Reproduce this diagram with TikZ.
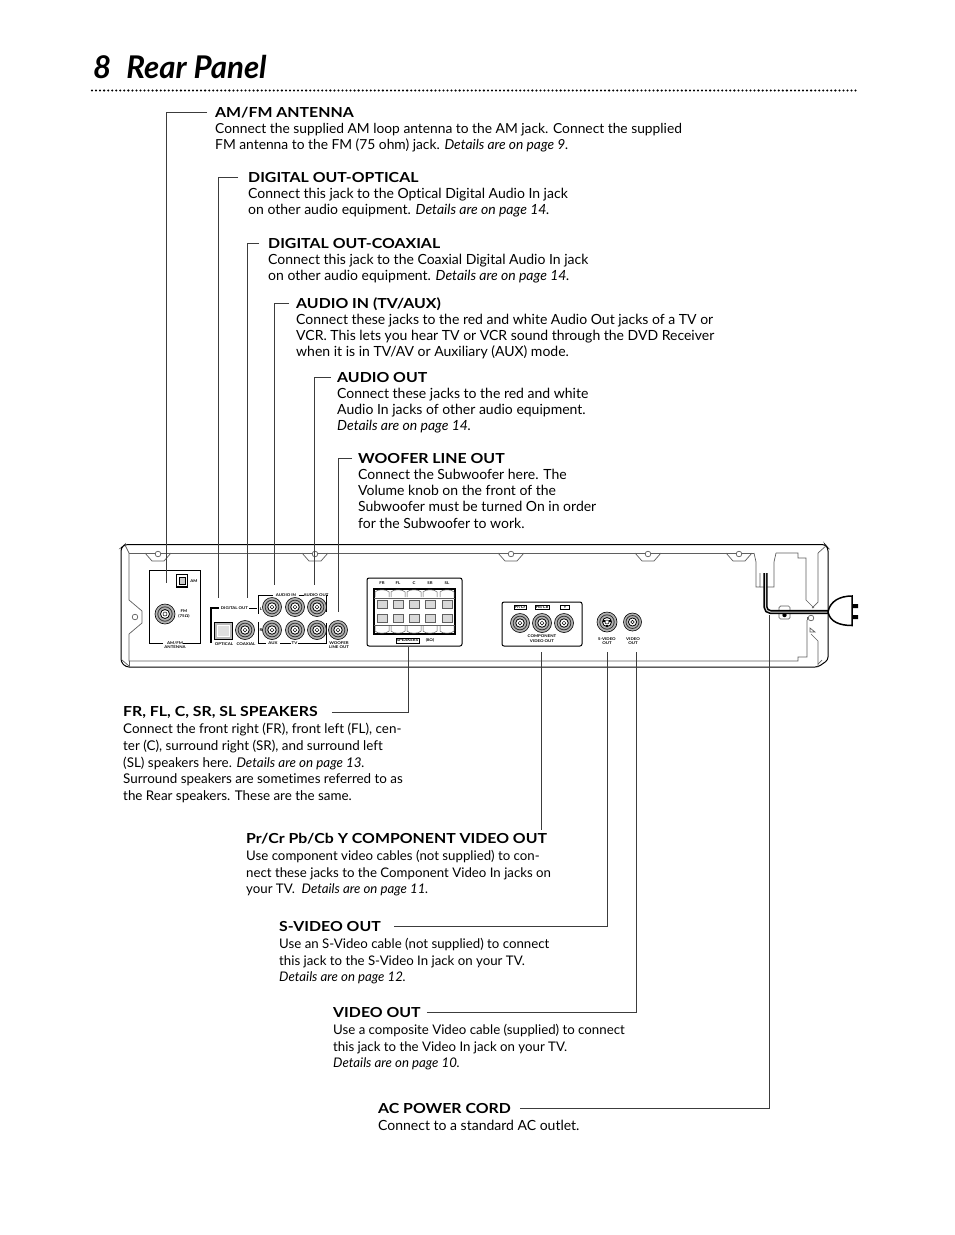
\documentclass[tikz,border=0pt]{standalone}
\usepackage{fontspec}
\setmainfont[Ligatures=NoCommon]{Lato}
\newfontfamily\headfont[FakeStretch=1.15, Ligatures=NoCommon]{Lato}
\usetikzlibrary{positioning, calc}
\definecolor{inkline}{RGB}{60,60,60}
\definecolor{panelgray}{RGB}{95,95,95}
\tikzset{
  head/.style={inner sep=0pt, anchor=base west, font=\fontsize{13.8}{16}\headfont\bfseries},
  body/.style={inner sep=0pt, align=left, font=\fontsize{14}{16.2}\selectfont, execute at begin node=\strut},
  bodylow/.style={inner sep=0pt, align=left, font=\fontsize{13.25}{16.7}\selectfont, execute at begin node=\strut},
  leader/.style={draw=inkline, line width=0.55pt},
  panel/.style={draw=panelgray, line width=0.7pt},
  frame/.style={draw=black, line width=1pt},
  tinytxt/.style={inner sep=0pt, align=center, font=\fontsize{3.8}{4.6}\headfont\bfseries},
  jack/.pic={
    \fill[gray!60, draw=black, line width=0.6pt] (0,0) circle (#1);
    \draw[black!80, line width=0.8pt] (0,0) circle (#1*0.72);
    \fill[white, draw=black, line width=0.8pt] (0,0) circle (#1*0.45);
    \draw[black, line width=0.5pt] (0,0) circle (#1*0.2);
  },
  tabhole/.pic={
    \draw[panel] (-13,0) -- (-6,8) -- (6,8) -- (13,0);
    \draw[panel, fill=white] (0,1) circle (2.8);
  }
}
\newcommand{\details}[1]{\textit{#1}}
\begin{document}
\begin{tikzpicture}[x=1pt, y=-1pt]
  \useasboundingbox[fill=white] (0,0) rectangle (954,1235);

  % title
  \node[inner sep=0pt, anchor=base west, font=\fontsize{31.3}{33}\selectfont\bfseries\itshape] (title) at (93,78) {8\hspace{15pt}Rear Panel};
  \draw[black, line width=2.3pt, line cap=round, dash pattern=on 0pt off 4.04pt] (92,90.5) -- (859,90.5);

  % texts above the panel
  \node[head] (amfmhead) at (215,117) {AM/FM ANTENNA};
  \node[body, font=\fontsize{13.8}{16.2}\selectfont, below=5.9pt of amfmhead.base west, anchor=north west] (amfmbody) {Connect the supplied AM loop antenna to the AM jack. Connect the supplied\\FM antenna to the FM (75 ohm) jack. \details{Details are on page 9.}};
  \node[head] (opticalhead) at (248,182) {DIGITAL OUT-OPTICAL};
  \node[body, below=5.9pt of opticalhead.base west, anchor=north west] (opticalbody) {Connect this jack to the Optical Digital Audio In jack\\on other audio equipment. \details{Details are on page 14.}};
  \node[head] (coaxhead) at (268,248) {DIGITAL OUT-COAXIAL};
  \node[body, below=5.9pt of coaxhead.base west, anchor=north west] (coaxbody) {Connect this jack to the Coaxial Digital Audio In jack\\on other audio equipment. \details{Details are on page 14.}};
  \node[head] (audioinhead) at (296,308) {AUDIO IN (TV/AUX)};
  \node[body, below=5.9pt of audioinhead.base west, anchor=north west] (audioinbody) {Connect these jacks to the red and white Audio Out jacks of a TV or\\VCR. This lets you hear TV or VCR sound through the DVD Receiver\\when it is in TV/AV or Auxiliary (AUX) mode.};
  \node[head] (audioouthead) at (337,382) {AUDIO OUT};
  \node[body, below=5.9pt of audioouthead.base west, anchor=north west] (audiooutbody) {Connect these jacks to the red and white\\Audio In jacks of other audio equipment.\\\details{Details are on page 14.}};
  \node[head] (wooferhead) at (358,463) {WOOFER LINE OUT};
  \node[body, below=5.9pt of wooferhead.base west, anchor=north west] (wooferbody) {Connect the Subwoofer here. The\\Volume knob on the front of the\\Subwoofer must be turned On in order\\for the Subwoofer to work.};

  % texts below the panel
  \node[head] (speakerhead) at (123,716) {FR, FL, C, SR, SL SPEAKERS};
  \node[bodylow, font=\fontsize{13.4}{16.7}\selectfont, below=7pt of speakerhead.base west, anchor=north west] (speakerbody) {Connect the front right (FR), front left (FL), cen-\\ter (C), surround right (SR), and surround left\\(SL) speakers here. \details{Details are on page 13.}\\Surround speakers are sometimes referred to as\\the Rear speakers. These are the same.};
  \node[head] (comphead) at (246,843) {Pr/Cr Pb/Cb Y COMPONENT VIDEO OUT};
  \node[bodylow, below=7pt of comphead.base west, anchor=north west] (compbody) {Use component video cables (not supplied) to con-\\nect these jacks to the Component Video In jacks on\\your TV.\ \ \details{Details are on page 11.}};
  \node[head] (svideohead) at (279,931) {S-VIDEO OUT};
  \node[bodylow, below=7pt of svideohead.base west, anchor=north west] (svideobody) {Use an S-Video cable (not supplied) to connect\\this jack to the S-Video In jack on your TV.\\\details{Details are on page 12.}};
  \node[head] (videohead) at (333,1017) {VIDEO OUT};
  \node[bodylow, below=7pt of videohead.base west, anchor=north west] (videobody) {Use a composite Video cable (supplied) to connect\\this jack to the Video In jack on your TV.\\\details{Details are on page 10.}};
  \node[head] (achead) at (378,1113) {AC POWER CORD};
  \node[body, below=6pt of achead.base west, anchor=north west] (acbody) {Connect to a standard AC outlet.};

  % panel outline
  \draw[black, line width=1pt, rounded corners=3pt] (125,544.5) -- (825,544.5) -- (828,548) -- (828,660) -- (818,667) -- (126,667) -- (121,662) -- (121,548) -- cycle;
  \draw[panel] (129,553) -- (754,553);
  \draw[panel] (129,553) -- (129,600) -- (142,611) -- (142,623) -- (129,634) -- (129,661) -- (798,661) -- (798,657) -- (807,657) -- (807,620);
  \draw[panel] (125,545) -- (129,553);
  \draw[panel] (122,660) -- (129,666);
  \draw[panel] (129,661) -- (129,667);
  \draw[panel, fill=white] (135,617) circle (2.8);
  \draw[panel] (776,553) -- (798,553) -- (798,558) -- (806,558) -- (806,600) -- (814,608);
  \draw[panel] (818,553) -- (827,545);
  \draw[panel] (818,553) -- (818,602) -- (812,608);
  \draw[panel] (807,620) -- (807,617);
  \draw[panel] (811,634) -- (818,641) -- (818,667);
  \draw[panel] (810,628) -- (815,632) -- (810,632) -- cycle;
  \draw[panel] (822,660) -- (818,664);
  \draw[panel] (754,553) -- (756,562) -- (756,587) -- (760,587) -- (760,573);
  \draw[panel] (776,553) -- (774,562) -- (774,587) -- (760,587);
  \draw[panel, fill=white] (811,618) circle (2.8);
  \foreach \tabx in {158,315,511,648,739}
    \pic at (\tabx,553) {tabhole};

  % antenna block
  \draw[frame] (163,643) -- (149,643) -- (149,570) -- (200,570) -- (200,643) -- (183,643);
  \node[tinytxt] (amfmcap) at (175,645) {AM/FM\\ANTENNA};
  \draw[black, line width=1.2pt, fill=white] (176.5,574.5) rectangle (187.5,587);
  \draw[black, line width=0.8pt, fill=gray!40] (179,577) rectangle (185,584.5);
  \node[tinytxt] (amcap) at (194,581) {AM};
  \pic at (165,614) {jack=10};
  \node[tinytxt] (fmcap) at (184,614) {FM\\(75Ω)};

  % digital and audio jacks
  \draw[frame, line width=1.3pt] (219,608) -- (211,608) -- (211,643);
  \draw[frame] (249,608) -- (257,608);
  \node[tinytxt] (digitalcap) at (234.5,608) {DIGITAL OUT};
  \draw[black, fill=gray!55, line width=0.5pt] (214,622) rectangle (232,639);
  \draw[white, fill=gray!25, line width=0.7pt] (217,625) rectangle (229,636);
  \pic at (245,630) {jack=9.5};
  \node[tinytxt] (opticalcap) at (224,644) {OPTICAL};
  \node[tinytxt] (coaxcap) at (246,644) {COAXIAL};
  \draw[frame] (273,595.5) -- (258,595.5) -- (258,614);
  \draw[frame] (258,622) -- (258,643) -- (266,643);
  \draw[frame] (280,643) -- (291,643);
  \draw[frame] (298,643) -- (326,643) -- (326,623);
  \draw[frame] (326,612) -- (326,595.5) -- (328,595.5);
  \draw[frame] (298.5,595.5) -- (303.5,595.5);
  \node[tinytxt] (audioincap) at (286,595.5) {AUDIO IN};
  \node[tinytxt] (audiooutcap) at (316,595.5) {AUDIO OUT};
  \node[tinytxt] (auxcap) at (273,643) {AUX};
  \node[tinytxt] (tvcap) at (294.5,643) {TV};
  \node[tinytxt] (leftcap) at (261,609) {L};
  \node[tinytxt] (rightcap) at (261,630) {R};
  \foreach \jackx in {272,295,317}
    \foreach \jacky in {607,630}
      \pic at (\jackx,\jacky) {jack=9.5};
  \pic at (338,630) {jack=9.5};
  \node[tinytxt] (woofercap) at (339,645) {WOOFER\\LINE OUT};

  % speaker block
  \draw[black, line width=1pt, rounded corners=2pt] (367,578) rectangle (462,646);
  \foreach \spkname/\spkx in {FR/382,FL/398,C/414,SR/430,SL/447}
    \node[tinytxt] (cap\spkname) at (\spkx,583) {\spkname};
  \draw[black, line width=1.3pt, fill=white] (374,589) rectangle (455,634);
  \foreach \spkx in {382,398,414,430,447} {
    \foreach \spky in {604,618}
      \draw[panel, fill=gray!30, line width=0.5pt] (\spkx-5,\spky-4) rectangle (\spkx+5,\spky+4);
    \draw[panel, line width=0.5pt] (\spkx-7,597) -- (\spkx-7,592) .. controls (\spkx-5,589) and (\spkx+5,589) .. (\spkx+7,592) -- (\spkx+7,597);
    \draw[panel, line width=0.5pt] (\spkx-7,626) -- (\spkx-7,631) .. controls (\spkx-5,634) and (\spkx+5,634) .. (\spkx+7,631) -- (\spkx+7,626);
  }
  \draw[panel, line width=0.5pt] (374,598) -- (455,598);
  \draw[panel, line width=0.5pt] (374,625) -- (455,625);
  \node[tinytxt, draw=black, line width=0.5pt, inner xsep=1pt, inner ysep=1pt] (spkcap) at (407.5,640.5) {SPEAKERS};
  \node[tinytxt] (ohmcap) at (430,640.5) {(8Ω)};

  % video block
  \draw[black, line width=1pt, rounded corners=2pt] (502,602) rectangle (582,646);
  \node[tinytxt, draw=black, line width=0.4pt, inner sep=0.8pt] (prcap) at (520,607) {Pr/Cr};
  \node[tinytxt, draw=black, line width=0.4pt, inner sep=0.8pt] (pbcap) at (542,607) {Pb/Cb};
  \node[tinytxt, draw=black, line width=0.4pt, inner xsep=3pt, inner ysep=0.8pt] (ycap) at (565,607) {Y};
  \foreach \jackx in {520,542,564}
    \pic at (\jackx,623) {jack=9.5};
  \node[tinytxt] (compcap) at (542,638.5) {COMPONENT\\VIDEO OUT};
  \pic at (607,622) {jack=10};
  \fill[black] (603,620) rectangle (605,622) (609,620) rectangle (611,622) (606,625) rectangle (608,627);
  \node[tinytxt] (svideocap) at (607,641) {S-VIDEO\\OUT};
  \pic at (632.5,622) {jack=9};
  \node[tinytxt] (videocap) at (633,641) {VIDEO\\OUT};

  % power cord and plug
  \draw[panel, fill=white, rounded corners=1.5pt] (779,606) rectangle (790,619);
  \fill[black] (784.5,615) circle (2.2);
  \draw[black, line width=4.2pt, rounded corners=5pt] (765.5,573) -- (765.5,612) -- (830,612);
  \draw[white!70!gray, line width=1pt, rounded corners=5pt] (765.5,573) -- (765.5,612) -- (830,612);
  \draw[black, line width=1.5pt, fill=white] (828,612) .. controls (830,601) and (840,596) .. (852,596) -- (852,625.5) .. controls (840,625.5) and (830,622) .. (828,612) -- cycle;
  \fill[black] (852,604) rectangle (858,608) (852,615) rectangle (858,619);

  % leader lines
  \coordinate (amfmend) at (166,583);
  \coordinate (opticalend) at (218,598);
  \coordinate (coaxend) at (247,598);
  \coordinate (audioinend) at (274,585);
  \coordinate (audiooutend) at (314,585);
  \coordinate (wooferend) at (338.5,612);
  \coordinate (speakerend) at (408,647);
  \coordinate (compend) at (541,652);
  \coordinate (svideoend) at (607,652);
  \coordinate (videoend) at (636,652);
  \coordinate (acend) at (769,615);
  \draw[leader] ([xshift=-8pt]amfmhead.west) -| (amfmend);
  \draw[leader] ([xshift=-10pt]opticalhead.west) -| (opticalend);
  \draw[leader] ([xshift=-9pt]coaxhead.west) -| (coaxend);
  \draw[leader] ([xshift=-7pt]audioinhead.west) -| (audioinend);
  \draw[leader] ([xshift=-6pt]audioouthead.west) -| (audiooutend);
  \draw[leader] ([xshift=-6pt]wooferhead.west) -| (wooferend);
  \draw[leader] ([xshift=14pt]speakerhead.east) -| (speakerend);
  \draw[leader] (compend) -- ([yshift=3pt]compend |- comphead.north);
  \draw[leader] ([xshift=13pt]svideohead.east) -| (svideoend);
  \draw[leader] ([xshift=6pt]videohead.east) -| (videoend);
  \draw[leader] ([xshift=9pt]achead.east) -| (acend);
\end{tikzpicture}
\end{document}
